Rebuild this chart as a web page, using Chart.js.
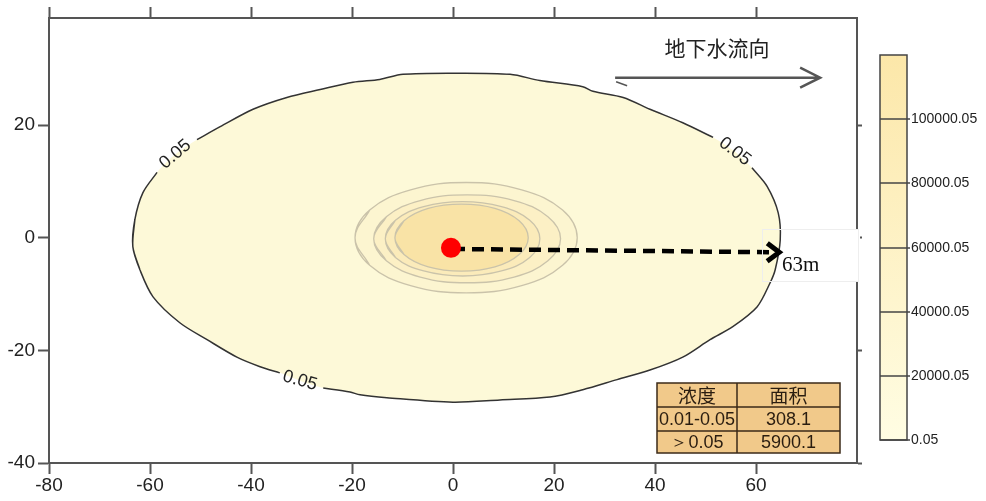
<!DOCTYPE html>
<html>
<head>
<meta charset="utf-8">
<script src="https://cdn.jsdelivr.net/npm/chart.js@4.4.0/dist/chart.umd.min.js"></script>
<style>
  html, body { margin: 0; padding: 0; background: #fff; }
  canvas { display: block; }
</style>
</head>
<body>
<canvas id="plume" width="986" height="501"></canvas>
<script>
// 0.05 contour (x, y in m)
const outerContour = [
  [-63.4, -1.6], [-63.0, 3.2], [-61.4, 8.0], [-58.6, 11.6], [-55.0, 14.8], [-50.7, 17.4],
  [-46.1, 19.7], [-39.6, 22.8], [-32.9, 24.9], [-26.3, 26.3], [-19.8, 27.6], [-14.5, 28.1],
  [-9.9, 29.0], [0, 29.2], [11.3, 29.0], [17.2, 27.9], [25.7, 26.8], [27.7, 26.0],
  [33.7, 24.9], [39.0, 22.8], [45.5, 20.4], [51.5, 17.8], [55.8, 15.3], [59.2, 12.4],
  [62.2, 9.1], [64.4, 4.4], [64.8, -0.4], [63.8, -5.7], [62.8, -8.0], [60.2, -12.3],
  [55.4, -15.8], [50.9, -18.1], [45.5, -21.2], [39.0, -23.5], [32.5, -25.2], [25.7, -27.0],
  [19.2, -28.3], [9.3, -28.8], [0, -29.2], [-13.1, -28.4], [-18.4, -27.9], [-20.4, -27.4],
  [-25.7, -26.7], [-30.3, -25.4], [-34.3, -24.0], [-38.2, -22.9], [-42.8, -21.2],
  [-48.7, -18.1], [-54.1, -15.1], [-59.4, -10.5], [-62.0, -5.7]
];
// where the "0.05" labels sit on that contour
const contourLabelAt = [[-55.0, 14.8], [55.8, 15.3], [-30.3, -25.4]];
const contourLabel = '0.05';

// inner contours round the source
const ring1 = [[-19.4, 0], [-16.5, -4.9], [-8.4, -8.5], [2.6, -9.8], [13.6, -8.5], [21.7, -4.9],
  [24.6, 0], [21.7, 4.9], [13.6, 8.5], [2.6, 9.8], [-8.4, 8.5], [-16.5, 4.9]];
const ring2 = [[-15.7, -0.2], [-13.2, -4.1], [-6.5, -7.0], [2.8, -8.0], [12.1, -7.0], [18.8, -4.1],
  [21.3, -0.2], [18.8, 3.7], [12.1, 6.6], [2.8, 7.6], [-6.5, 6.6], [-13.2, 3.7]];
const ring3 = [[-13.4, -0.2], [-11.4, -3.5], [-5.8, -5.9], [1.9, -6.8], [9.6, -5.9], [15.2, -3.5],
  [17.2, -0.2], [15.2, 3.1], [9.6, 5.5], [1.9, 6.4], [-5.8, 5.5], [-11.4, 3.1]];
const ring4 = [[-11.5, 0], [-9.7, -3.0], [-4.9, -5.2], [1.7, -5.95], [8.3, -5.2], [13.1, -3.0],
  [14.9, 0], [13.1, 3.0], [8.3, 5.2], [1.7, 5.95], [-4.9, 5.2], [-9.7, 3.0]];

const sourcePoint = [-0.4, -1.8];
const reachLine = [[0, -2.0], [64.6, -2.6]];
const reachLabel = '63m';

const flowLine = [[32.1, 28.4], [72.7, 28.4]];
const flowLabel = '地下水流向';

const xTicks = [-80, -60, -40, -20, 0, 20, 40, 60];
const yTicks = [-40, -20, 0, 20];

const legendLevels = ['0.05', '20000.05', '40000.05', '60000.05', '80000.05', '100000.05'];
const tableHead = ['浓度', '面积'];
const tableRows = [['0.01-0.05', '308.1'], ['＞0.05', '5900.1']];

const toXY = p => ({ x: p[0], y: p[1] });
const isLabelPt = p => contourLabelAt.some(q => q[0] === p[0] && q[1] === p[1]);

// repeat the ends so the smoothed ring closes without a kink
function loop(pts) {
  const n = pts.length;
  return [pts[n - 1], ...pts, pts[0], pts[1]].map(toXY);
}

const outerFill = loop(outerContour);
const n0 = outerContour.length;
const outerLine = [outerContour[n0 - 1], ...outerContour, outerContour[0], outerContour[1]].map(p =>
  isLabelPt(p) ? { x: p[0], y: null } : toXY(p));

const axisColor = '#555';
const tickFont = { family: "'Liberation Sans', Arial", size: 19, lineHeight: 1 };

const extras = {
  id: 'extras',
  afterDraw(chart) {
    const ctx = chart.ctx;
    const xs = chart.scales.x, ys = chart.scales.y;

    // white patch behind the 63m label
    ctx.save();
    ctx.fillStyle = '#fff';
    ctx.fillRect(783, 229, 77, 53);
    ctx.strokeStyle = '#eeeeee';
    ctx.lineWidth = 1;
    ctx.strokeRect(762.5, 229.5, 96, 52);
    ctx.restore();

    // arrow head of the dashed reach line
    const m = chart.getDatasetMeta(6).data;
    const a = m[0], b = m[1];
    const ang = Math.atan2(b.y - a.y, b.x - a.x);
    ctx.save();
    ctx.translate(b.x, b.y);
    ctx.rotate(ang);
    ctx.strokeStyle = '#000';
    ctx.lineWidth = 5;
    ctx.beginPath();
    ctx.moveTo(-12, -9);
    ctx.lineTo(0, 0);
    ctx.lineTo(-12, 9);
    ctx.stroke();
    ctx.restore();

    ctx.save();
    ctx.fillStyle = '#111';
    ctx.font = "21px 'Liberation Serif', 'Times New Roman', serif";
    ctx.fillText(reachLabel, 782, 271);
    ctx.restore();

    // 0.05 labels along the contour
    const rot = [-40, 38, 16];
    ctx.save();
    ctx.fillStyle = '#222';
    ctx.font = "18px 'Liberation Sans', Arial";
    ctx.textAlign = 'center';
    ctx.textBaseline = 'middle';
    contourLabelAt.forEach((p, i) => {
      ctx.save();
      ctx.translate(xs.getPixelForValue(p[0]), ys.getPixelForValue(p[1]));
      ctx.rotate(rot[i] * Math.PI / 180);
      ctx.fillText(contourLabel, 0, 0);
      ctx.restore();
    });
    ctx.restore();

    // groundwater flow arrow
    const f0x = xs.getPixelForValue(flowLine[0][0]), f1x = xs.getPixelForValue(flowLine[1][0]);
    const fy = ys.getPixelForValue(flowLine[0][1]);
    ctx.save();
    ctx.strokeStyle = '#555';
    ctx.lineWidth = 2.5;
    ctx.beginPath();
    ctx.moveTo(f0x, fy);
    ctx.lineTo(f1x, fy);
    ctx.moveTo(f1x - 20, fy - 10);
    ctx.lineTo(f1x, fy);
    ctx.lineTo(f1x - 20, fy + 10);
    ctx.stroke();
    ctx.lineWidth = 1.5;
    ctx.beginPath();
    ctx.moveTo(f0x + 1, fy + 4);
    ctx.lineTo(f0x + 12, fy + 8);
    ctx.stroke();
    ctx.fillStyle = '#222';
    ctx.font = "21px 'Noto Sans CJK SC', sans-serif";
    ctx.textAlign = 'center';
    ctx.textBaseline = 'middle';
    ctx.fillText(flowLabel, 717, 48);
    ctx.restore();

    // area table
    const cx = [657, 737, 840], ry = [383, 407, 431, 453];
    ctx.save();
    ctx.fillStyle = '#f1c98a';
    ctx.fillRect(cx[0], ry[0], cx[2] - cx[0], ry[3] - ry[0]);
    ctx.strokeStyle = '#3b2a18';
    ctx.lineWidth = 1.5;
    ctx.strokeRect(cx[0], ry[0], cx[2] - cx[0], ry[3] - ry[0]);
    ctx.beginPath();
    ctx.moveTo(cx[1], ry[0]); ctx.lineTo(cx[1], ry[3]);
    ctx.moveTo(cx[0], ry[1]); ctx.lineTo(cx[2], ry[1]);
    ctx.moveTo(cx[0], ry[2]); ctx.lineTo(cx[2], ry[2]);
    ctx.stroke();
    ctx.fillStyle = '#2a1d10';
    ctx.textAlign = 'center';
    ctx.textBaseline = 'middle';
    ctx.font = "19px 'Noto Sans CJK SC', sans-serif";
    tableHead.forEach((t, i) => ctx.fillText(t, (cx[i] + cx[i + 1]) / 2, (ry[0] + ry[1]) / 2 + 1));
    ctx.font = "18px 'Liberation Sans', Arial";
    tableRows.forEach((row, r) => row.forEach((t, i) =>
      ctx.fillText(t, (cx[i] + cx[i + 1]) / 2, (ry[r + 1] + ry[r + 2]) / 2 + 1)));
    ctx.restore();

    // colour bar
    const bx = 880, bw = 27, bt = 55, bb = 440;
    const step = (bb - bt) / legendLevels.length;
    ctx.save();
    const g = ctx.createLinearGradient(0, bb, 0, bt);
    g.addColorStop(0, '#fffde3');
    g.addColorStop(1, '#fce7a9');
    ctx.fillStyle = g;
    ctx.fillRect(bx, bt, bw, bb - bt);
    ctx.strokeStyle = '#444';
    ctx.lineWidth = 1.5;
    ctx.strokeRect(bx, bt, bw, bb - bt);
    ctx.fillStyle = '#222';
    ctx.font = "14px 'Liberation Sans', Arial";
    ctx.textBaseline = 'middle';
    legendLevels.forEach((t, i) => {
      const y = Math.round(bb - i * step);
      ctx.beginPath();
      ctx.moveTo(bx, y);
      ctx.lineTo(bx + bw + 3, y);
      ctx.stroke();
      ctx.fillText(t, bx + bw + 4, y);
    });
    ctx.restore();
  }
};

const ringStyle = {
  showLine: true, pointRadius: 0, tension: 0.4, fill: 'shape',
  borderColor: '#cac3aa', borderWidth: 1.3
};

new Chart(document.getElementById('plume'), {
  type: 'scatter',
  data: {
    datasets: [
      { data: outerFill, showLine: true, pointRadius: 0, fill: 'shape', tension: 0.3,
        backgroundColor: '#fdf9d8', borderWidth: 0, order: 10 },
      { data: outerLine, showLine: true, pointRadius: 0, fill: false, spanGaps: false, tension: 0.3,
        borderColor: '#333', borderWidth: 1.5, order: 9 },
      { ...ringStyle, data: loop(ring1), backgroundColor: '#fcf5d0', order: 8 },
      { ...ringStyle, data: loop(ring2), backgroundColor: '#fcf0c5', order: 7 },
      { ...ringStyle, data: loop(ring3), backgroundColor: '#fbebba', order: 6 },
      { ...ringStyle, data: loop(ring4), backgroundColor: '#f9e3a6', order: 5 },
      { data: reachLine.map(toXY), showLine: true, pointRadius: 0, borderColor: '#000',
        borderWidth: 4.5, borderDash: [12, 7], order: 2 },
      { data: [toXY(sourcePoint)], pointRadius: 10, pointBackgroundColor: '#ff0000',
        pointBorderWidth: 0, order: 1 }
    ]
  },
  options: {
    responsive: false,
    animation: false,
    events: [],
    layout: { padding: 0 },
    plugins: { legend: { display: false }, tooltip: { enabled: false } },
    scales: {
      x: {
        type: 'linear', position: 'bottom', min: -80, max: 80,
        afterBuildTicks: s => { s.ticks = xTicks.map(v => ({ value: v })); },
        afterFit: s => { s.height = 38; },
        ticks: { font: tickFont, color: '#222', padding: 2, maxRotation: 0 },
        grid: { drawOnChartArea: false, tickLength: 11, tickColor: axisColor, tickWidth: 2 },
        border: { color: axisColor, width: 2 }
      },
      x2: {
        type: 'linear', position: 'top', min: -80, max: 80,
        afterBuildTicks: s => { s.ticks = xTicks.map(v => ({ value: v })); },
        afterFit: s => { s.height = 18; },
        ticks: { display: false },
        grid: { drawOnChartArea: false, tickLength: 11, tickColor: axisColor, tickWidth: 2 },
        border: { color: axisColor, width: 2 }
      },
      y: {
        type: 'linear', position: 'left', min: -40, max: 39,
        afterBuildTicks: s => { s.ticks = yTicks.map(v => ({ value: v })); },
        afterFit: s => { s.width = 49; },
        ticks: { font: tickFont, color: '#222', padding: 3 },
        grid: { drawOnChartArea: false, tickLength: 11, tickColor: axisColor, tickWidth: 2 },
        border: { color: axisColor, width: 2 }
      },
      y2: {
        type: 'linear', position: 'right', min: -40, max: 39,
        afterBuildTicks: s => { s.ticks = yTicks.map(v => ({ value: v })); },
        afterFit: s => { s.width = 129; },
        ticks: { display: false },
        grid: { drawOnChartArea: false, tickLength: 5, tickColor: axisColor, tickWidth: 2 },
        border: { color: axisColor, width: 2 }
      }
    }
  },
  plugins: [extras]
});
</script>
</body>
</html>
